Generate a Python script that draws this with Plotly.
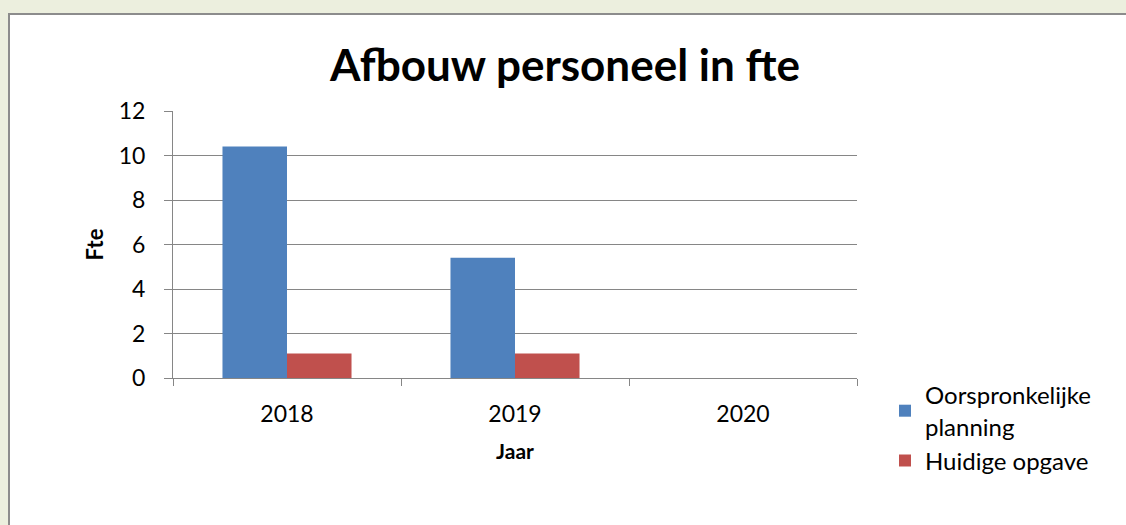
import plotly.graph_objects as go

years = ["2018", "2019", "2020"]
oorspronkelijk = [10.4, 5.4, 0]
huidig = [1.1, 1.1, 0]
series_names = ["Oorspronkelijke<br>planning", "Huidige opgave"]
y_ticks = [0, 2, 4, 6, 8, 10, 12]

FONT = "Lato"
GRAY = "#868686"
BG = "#ECEFDE"

fig = go.Figure()
fig.add_trace(go.Bar(x=years, y=oorspronkelijk, name=series_names[0],
                     marker=dict(color="#4F81BD", line=dict(width=0))))
fig.add_trace(go.Bar(x=years, y=huidig, name=series_names[1],
                     marker=dict(color="#C0504D", line=dict(width=0))))

L, R, T, B = 173, 269, 111, 147
W, H = 1126, 525
pw, ph = W - L - R, H - T - B

def px(x):
    return (x - L) / pw

def py(y):
    return (H - B - y) / ph

fig.add_shape(type="rect", xref="paper", yref="paper",
              x0=px(9), x1=px(1135), y0=py(14), y1=py(540),
              fillcolor="white", line=dict(color="#8C8C8C", width=2), layer="below")

fig.update_layout(
    width=W, height=H,
    margin=dict(l=L, r=R, t=T, b=B),
    paper_bgcolor=BG,
    plot_bgcolor="white",
    barmode="group",
    bargap=0.434, bargroupgap=0,
    font=dict(family=FONT, color="black", size=23),
    title=dict(text="<b>Afbouw personeel in fte</b>", xref="container", x=565 / W,
               xanchor="center", y=1 - 66 / H, yanchor="middle",
               font=dict(size=44, family=FONT)),
    legend=dict(x=px(885), y=py(373), xanchor="left", yanchor="top",
                font=dict(size=24, family=FONT), bgcolor="rgba(0,0,0,0)",
                itemwidth=30, tracegroupgap=2),
    xaxis=dict(showline=True, linecolor=GRAY, linewidth=1,
               ticks="outside", tickson="boundaries", ticklen=7, tickcolor=GRAY,
               tickfont=dict(size=23), ticklabelstandoff=15,
               title=dict(text="<b>Jaar</b>", font=dict(size=21), standoff=18)),
    yaxis=dict(range=[0, 12], tickvals=y_ticks, showline=True, linecolor=GRAY,
               linewidth=1, showgrid=True, gridcolor=GRAY, gridwidth=1,
               ticks="outside", ticklen=8, tickcolor=GRAY, zeroline=False,
               tickfont=dict(size=23), ticklabelstandoff=14,
               title=dict(text="<b>Fte</b>", font=dict(size=22), standoff=9)),
)

fig.write_html("out.html", config={"displayModeBar": False},
               post_script="document.body.style.margin='0';"
                           "document.body.style.background='%s';" % BG)
